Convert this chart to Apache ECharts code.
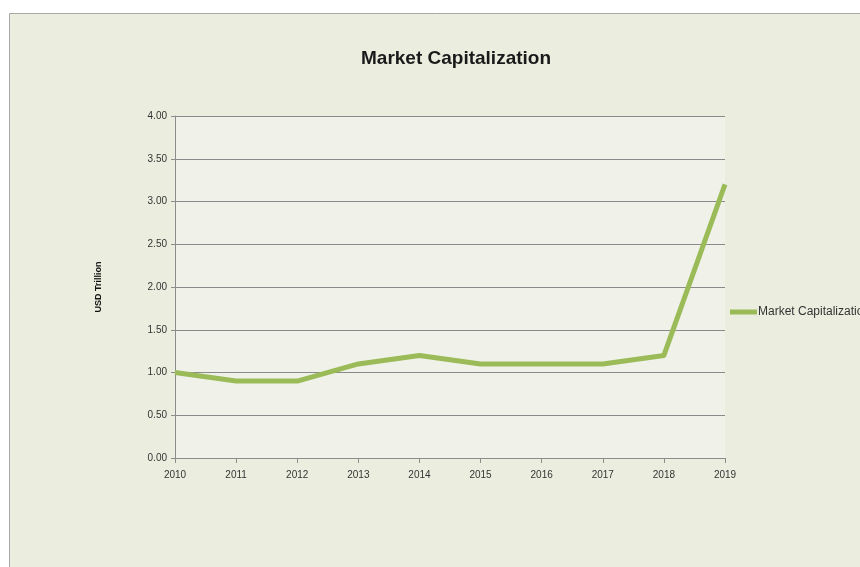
<!DOCTYPE html>
<html>
<head>
<meta charset="utf-8">
<script src="https://cdn.jsdelivr.net/npm/echarts@6/dist/echarts.min.js"></script>
<style>
html,body{margin:0;padding:0;background:#ffffff;}
#c{width:860px;height:567px;}
</style>
</head>
<body>
<div id="c"></div>
<script>
const years = ['2010','2011','2012','2013','2014','2015','2016','2017','2018','2019'];
const marketCap = [1.00, 0.90, 0.90, 1.10, 1.20, 1.10, 1.10, 1.10, 1.20, 3.20];
const seriesName = 'Market Capitalization';

const chart = echarts.init(document.getElementById('c'), null, {renderer:'canvas'});
chart.setOption({
  backgroundColor: '#ffffff',
  animation: false,
  graphic: [{
    type: 'rect', z: -10, silent: true,
    shape: {x: 9.5, y: 13.5, width: 900, height: 600},
    style: {fill: '#EBEEDF', stroke: '#A8A8A8', lineWidth: 1}
  }],
  title: {
    text: 'Market Capitalization',
    left: 356, top: 44,
    textStyle: {fontFamily: 'Liberation Sans', fontWeight: 'bold', fontSize: 19, color: '#1a1a1a'}
  },
  legend: {
    left: 725, top: 301,
    icon: 'rect', itemWidth: 27, itemHeight: 5, itemGap: 0,
    textStyle: {fontFamily: 'Liberation Sans', fontSize: 12, color: '#333', padding: [0,0,0,-4]},
    data: [seriesName]
  },
  grid: {
    left: 175, top: 116, width: 550, height: 342,
    show: true, backgroundColor: '#F0F2E9', borderWidth: 0
  },
  xAxis: {
    type: 'category', data: years, boundaryGap: false,
    axisLine: {lineStyle: {color: '#8c8c8c'}},
    axisTick: {show: true, length: 5, inside: false, lineStyle: {color: '#8c8c8c'}},
    axisLabel: {fontFamily: 'Liberation Sans', fontSize: 10, color: '#333', margin: 12}
  },
  yAxis: {
    type: 'value', min: 0, max: 4, interval: 0.5,
    name: 'USD Trillion', nameLocation: 'middle', nameGap: 72, nameRotate: 90,
    nameTextStyle: {fontFamily: 'Liberation Sans', fontWeight: 'bold', fontSize: 9, color: '#111'},
    axisLine: {show: true, lineStyle: {color: '#8c8c8c'}},
    axisTick: {show: true, length: 4, lineStyle: {color: '#8c8c8c'}},
    splitLine: {lineStyle: {color: '#8a8a8a', width: 1}},
    axisLabel: {fontFamily: 'Liberation Sans', fontSize: 10, color: '#333', margin: 8,
      formatter: v => v.toFixed(2)}
  },
  series: [{
    name: seriesName, type: 'line', data: marketCap,
    showSymbol: false, symbol: 'none',
    lineStyle: {color: '#9BBB59', width: 5, join: 'round'},
    itemStyle: {color: '#9BBB59'}
  }]
});
</script>
</body>
</html>
